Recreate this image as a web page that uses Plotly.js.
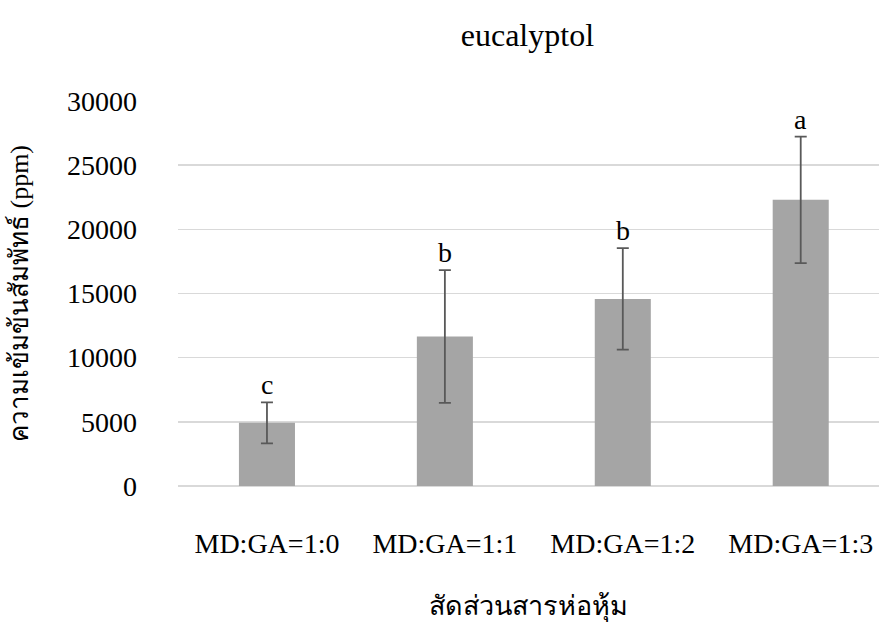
<!DOCTYPE html>
<html>
<head>
<meta charset="utf-8">
<script src="https://cdn.plot.ly/plotly-3.0.1.min.js"></script>
<style>html,body{margin:0;padding:0;background:#fff;}#chart{width:879px;height:624px;}</style>
</head>
<body>
<div id="chart"></div>
<script>
const categories = ["MD:GA=1:0", "MD:GA=1:1", "MD:GA=1:2", "MD:GA=1:3"];
const values = [4920, 11650, 14580, 22300];
const errors = [1600, 5170, 3960, 4930];
const letters = ["c", "b", "b", "a"];
const yTicks = [0, 5000, 10000, 15000, 20000, 25000, 30000];

const FONT = "Liberation Serif, Times New Roman, serif";

const trace = {
  type: "bar",
  x: categories,
  y: values,
  width: 0.315,
  marker: {color: "#a5a5a5"},
  error_y: {type: "data", array: errors, visible: true, color: "#595959", thickness: 1.8, width: 6},
  hoverinfo: "none"
};

const annotations = categories.map((c, i) => ({
  x: c, y: values[i] + errors[i], xref: "x", yref: "y",
  text: letters[i], showarrow: false, yanchor: "bottom", yshift: 0,
  font: {family: FONT, size: 28, color: "#000"}
}));

const layout = {
  width: 879, height: 624,
  paper_bgcolor: "#fff", plot_bgcolor: "#fff",
  margin: {l: 178, r: 0, t: 101, b: 138},
  showlegend: false,
  title: {text: "eucalyptol", x: 0.6, xanchor: "center", y: 0.945, yanchor: "middle",
          font: {family: FONT, size: 32, color: "#000"}},
  xaxis: {
    type: "category", range: [-0.5, 3.44],
    showgrid: false, zeroline: false, showline: false, ticks: "",
    ticklabelstandoff: 38,
    tickfont: {family: FONT, size: 28, color: "#000"},
    title: {text: "สัดส่วนสารห่อหุ้ม", font: {family: FONT, size: 27, color: "#000"}, standoff: 38}
  },
  yaxis: {
    range: [0, 30000], tickvals: yTicks, ticktext: yTicks.map(String),
    showgrid: true, gridcolor: "#d9d9d9", gridwidth: 1.5,
    zeroline: true, zerolinecolor: "#d9d9d9", zerolinewidth: 1.5,
    showline: false, ticks: "", ticklabelstandoff: 40,
    tickfont: {family: FONT, size: 28, color: "#000"},
    title: {text: "ความเข้มข้นสัมพัทธ์ (ppm)", font: {family: FONT, size: 26, color: "#000"}, standoff: 30}
  },
  annotations: annotations
};

Plotly.newPlot("chart", [trace], layout, {displayModeBar: false, staticPlot: true});
</script>
</body>
</html>
